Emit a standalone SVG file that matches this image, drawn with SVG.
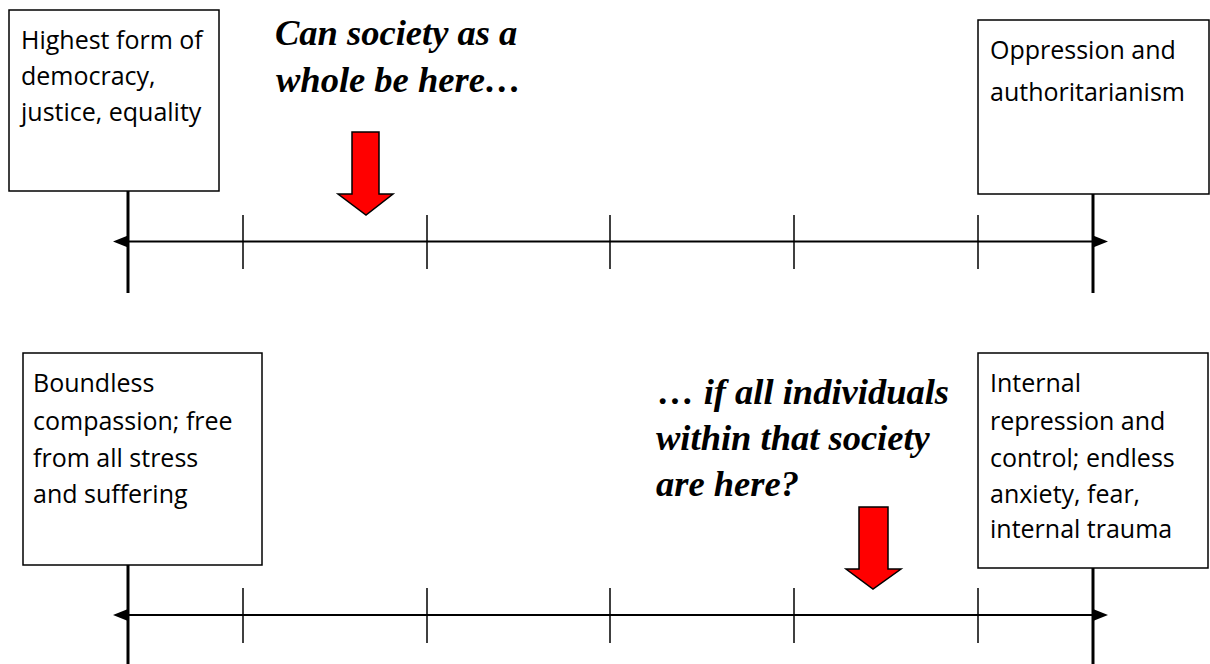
<svg xmlns="http://www.w3.org/2000/svg" width="1210" height="664" viewBox="0 0 1210 664">
<style>
.box{fill:#fff;stroke:#000;stroke-width:1.5}
.lbl{font-family:"Open Sans","Liberation Sans",sans-serif;font-size:25px;fill:#000}
.q{font-family:"Liberation Serif","Times New Roman",serif;font-size:36.5px;font-weight:bold;font-style:italic;fill:#000}
.axis{stroke:#000;stroke-width:2.2;fill:none}
.end{stroke:#000;stroke-width:3;fill:none}
.tick{stroke:#000;stroke-width:1.5;fill:none}
.red{fill:#ff0000;stroke:#000;stroke-width:1.5;stroke-linejoin:miter}
</style>
<defs>
<marker id="ah" markerUnits="userSpaceOnUse" markerWidth="16" markerHeight="14" refX="0" refY="6" orient="auto-start-reverse">
<path d="M0,0 L15,6 L0,12 z" fill="#000"/>
</marker>
</defs>
<rect width="1210" height="664" fill="#fff"/>
<g id="connectors">
<line class="axis" x1="128" y1="241.5" x2="1093" y2="241.5" marker-start="url(#ah)" marker-end="url(#ah)"/>
<line class="end" x1="128" y1="191" x2="128" y2="293"/>
<line class="end" x1="1093" y1="194" x2="1093" y2="293"/>
<line class="tick" x1="243" y1="215" x2="243" y2="269"/>
<line class="tick" x1="427" y1="215" x2="427" y2="269"/>
<line class="tick" x1="610" y1="215" x2="610" y2="269"/>
<line class="tick" x1="794" y1="215" x2="794" y2="269"/>
<line class="tick" x1="978" y1="215" x2="978" y2="269"/>
<line class="axis" x1="128" y1="615" x2="1093" y2="615" marker-start="url(#ah)" marker-end="url(#ah)"/>
<line class="end" x1="128" y1="565" x2="128" y2="664"/>
<line class="end" x1="1093" y1="568" x2="1093" y2="664"/>
<line class="tick" x1="243" y1="588" x2="243" y2="643"/>
<line class="tick" x1="427" y1="588" x2="427" y2="643"/>
<line class="tick" x1="610" y1="588" x2="610" y2="643"/>
<line class="tick" x1="794" y1="588" x2="794" y2="643"/>
<line class="tick" x1="978" y1="588" x2="978" y2="643"/>
</g>
<g id="box-democracy">
<rect class="box" x="9" y="10" width="210" height="181"/>
<text class="lbl" x="21" y="49">Highest form of</text>
<text class="lbl" x="21" y="85">democracy,</text>
<text class="lbl" x="21" y="121">justice, equality</text>
</g>
<g id="box-oppression">
<rect class="box" x="978" y="20" width="231" height="174"/>
<text class="lbl" x="990" y="59">Oppression and</text>
<text class="lbl" x="990" y="101">authoritarianism</text>
</g>
<g id="box-compassion">
<rect class="box" x="23" y="353" width="239" height="212"/>
<text class="lbl" x="33" y="392">Boundless</text>
<text class="lbl" x="33" y="430">compassion; free</text>
<text class="lbl" x="33" y="467">from all stress</text>
<text class="lbl" x="33" y="503">and suffering</text>
</g>
<g id="box-repression">
<rect class="box" x="978" y="353" width="230" height="215"/>
<text class="lbl" x="990" y="392">Internal</text>
<text class="lbl" x="990" y="430">repression and</text>
<text class="lbl" x="990" y="467">control; endless</text>
<text class="lbl" x="990" y="503">anxiety, fear,</text>
<text class="lbl" x="990" y="538">internal trauma</text>
</g>
<g id="question-society">
<text class="q" x="275" y="45">Can society as a</text>
<text class="q" x="276" y="92">whole be here…</text>
</g>
<g id="question-individuals">
<text class="q" x="658" y="404">… if all individuals</text>
<text class="q" x="656" y="450">within that society</text>
<text class="q" x="656" y="496">are here?</text>
</g>
<g id="arrow-society">
<polygon class="red" points="352,132 379,132 379,194 393,194 366,215 338,194 352,194"/>
</g>
<g id="arrow-individuals">
<polygon class="red" points="859,507 888,507 888,569 901,569 873,589 846,569 859,569"/>
</g>
</svg>
